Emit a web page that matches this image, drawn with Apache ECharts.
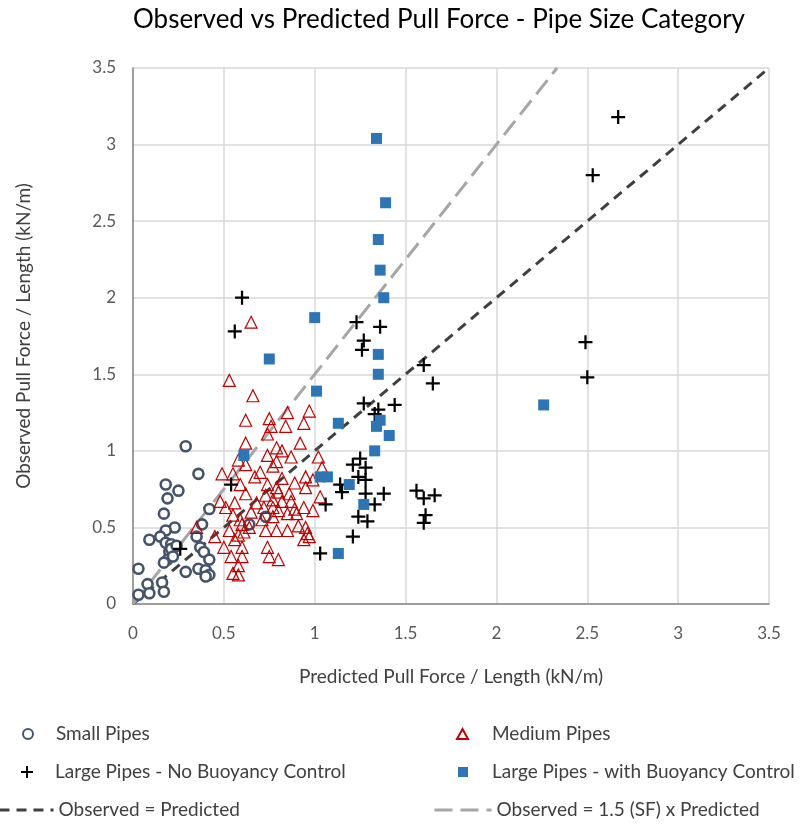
<!DOCTYPE html>
<html><head><meta charset="utf-8">
<script src="https://cdn.jsdelivr.net/npm/echarts@6/dist/echarts.min.js"></script>
<style>html,body{margin:0;padding:0;background:#fff}#c{width:807px;height:824px}</style>
</head><body><div id="c"></div>
<script>
const titleText = 'Observed vs Predicted Pull Force - Pipe Size Category';
const xName = 'Predicted Pull Force / Length (kN/m)';
const yName = 'Observed Pull Force / Length (kN/m)';
const seriesNames = ['Small Pipes','Medium Pipes','Large Pipes - No Buoyancy Control','Large Pipes - with Buoyancy Control','Observed = Predicted','Observed = 1.5 (SF) x Predicted'];

const smallPipes = [[0.29,1.03],[0.36,0.85],[0.18,0.78],[0.25,0.74],[0.19,0.69],[0.42,0.62],[0.17,0.59],[0.23,0.50],[0.18,0.48],[0.38,0.52],[0.09,0.42],[0.15,0.44],[0.18,0.40],[0.21,0.39],[0.37,0.37],[0.35,0.44],[0.20,0.34],[0.19,0.29],[0.17,0.27],[0.39,0.34],[0.42,0.29],[0.29,0.21],[0.36,0.23],[0.40,0.22],[0.03,0.23],[0.42,0.19],[0.40,0.18],[0.16,0.14],[0.08,0.13],[0.17,0.08],[0.09,0.07],[0.03,0.06],[0.64,0.52],[0.73,0.57],[0.21,0.36],[0.22,0.31],[0.24,0.38]];

const mediumPipes = [[0.65,1.84],[0.53,1.46],[0.66,1.36],[0.97,1.26],[0.85,1.25],[0.62,1.20],[0.75,1.21],[0.84,1.16],[0.76,1.16],[0.94,1.18],[0.74,1.11],[0.62,1.05],[0.92,1.05],[0.79,1.02],[0.82,1.00],[0.74,0.97],[0.87,0.96],[1.02,0.96],[0.79,0.93],[0.58,0.94],[0.62,0.91],[0.77,0.90],[1.04,0.89],[0.49,0.85],[0.55,0.85],[0.95,0.83],[0.99,0.81],[0.89,0.79],[0.59,0.78],[0.74,0.78],[0.79,0.76],[0.95,0.76],[0.62,0.72],[0.73,0.71],[0.80,0.73],[0.86,0.72],[1.03,0.70],[0.48,0.67],[0.56,0.66],[0.77,0.68],[0.82,0.67],[0.87,0.67],[0.94,0.63],[0.99,0.61],[0.51,0.63],[0.72,0.63],[0.77,0.63],[0.80,0.61],[0.85,0.59],[0.90,0.59],[0.55,0.58],[0.59,0.55],[0.77,0.57],[0.35,0.50],[0.53,0.48],[0.58,0.45],[0.64,0.50],[0.73,0.48],[0.79,0.48],[0.85,0.48],[0.95,0.50],[0.96,0.46],[0.45,0.44],[0.50,0.37],[0.60,0.37],[0.74,0.37],[0.94,0.42],[0.54,0.31],[0.60,0.31],[0.75,0.31],[0.80,0.29],[0.58,0.25],[0.55,0.20],[0.58,0.19],[0.97,0.44],[0.67,0.83],[0.70,0.86],[0.71,0.55],[0.65,0.60],[0.82,0.82],[0.89,0.62],[0.60,0.52],[0.68,0.66],[0.91,0.51],[0.56,0.42],[0.61,0.47]];

const largeNoBC = [[2.67,3.18],[2.53,2.80],[2.49,1.71],[2.50,1.48],[0.60,2.00],[0.56,1.78],[1.23,1.84],[1.36,1.81],[1.27,1.72],[1.26,1.66],[1.60,1.56],[1.65,1.44],[1.27,1.31],[1.44,1.30],[1.35,1.27],[1.33,1.24],[0.54,0.78],[0.26,0.36],[1.21,0.91],[1.25,0.95],[1.28,0.89],[1.24,0.83],[1.28,0.81],[1.14,0.78],[1.15,0.73],[1.28,0.72],[1.38,0.72],[1.33,0.65],[1.06,0.65],[1.24,0.57],[1.29,0.54],[1.21,0.44],[1.03,0.33],[1.56,0.74],[1.60,0.69],[1.66,0.71],[1.61,0.58],[1.60,0.53]];

const largeWithBC = [[1.34,3.04],[1.39,2.62],[1.35,2.38],[1.36,2.18],[1.38,2.00],[1.00,1.87],[0.75,1.60],[1.35,1.63],[1.35,1.50],[1.01,1.39],[1.13,1.18],[1.36,1.20],[1.34,1.16],[1.41,1.10],[1.33,1.00],[0.61,0.97],[1.03,0.83],[1.07,0.83],[1.19,0.78],[1.27,0.65],[1.13,0.33],[2.26,1.30]];

const lineOneToOne = [[0,0],[3.5,3.5]];
const lineSF = [[0,0],[2.3333,3.5]];

const axisTicks = [0,0.5,1,1.5,2,2.5,3,3.5];

const FONT = 'Lato, "Open Sans", sans-serif';
const LFS = 19;
const plusPath = 'path://M4.2,0h1.6v4.2h4.2v1.6h-4.2v4.2h-1.6v-4.2h-4.2v-1.6h4.2z';
const darkDash = {color:'#404040', width:3, type:[10,7]};
const lightDash = {color:'#a6a6a6', width:3, type:[18,8]};

function legendItem(name, left, cy, w, h, padLeft, extra, lineStyle) {
  const d = Object.assign({name:name}, extra || {});
  const l = {orient:'horizontal', left:left, top:cy - 12, padding:0, itemWidth:w, itemHeight:h,
    selectedMode:false, data:[d],
    textStyle:{fontFamily:FONT, fontSize:LFS, color:'#404040', lineHeight:24, padding:[0,0,0,padLeft]}};
  if (lineStyle) l.lineStyle = lineStyle;
  return l;
}

const chart = echarts.init(document.getElementById('c'), null, {renderer:'canvas'});
const axisCommon = {
  type:'value', min:axisTicks[0], max:axisTicks[axisTicks.length-1], interval:0.5,
  nameLocation:'middle',
  nameTextStyle:{fontFamily:FONT, fontSize:LFS, color:'#404040'},
  axisLine:{show:true, lineStyle:{color:'#868686', width:1.5}},
  axisTick:{show:false},
  splitLine:{show:true, lineStyle:{color:'#d9d9d9', width:1.5}},
  axisLabel:{fontFamily:FONT, fontSize:17, color:'#595959', formatter:v=>String(v)}
};
chart.setOption({
  backgroundColor:'#fff',
  animation:false,
  title:{text:titleText, left:128, top:2, textStyle:{fontFamily:FONT, fontSize:26, fontWeight:'normal', color:'#000'}},
  grid:{left:133, right:38, top:68, bottom:220},
  xAxis:Object.assign({}, axisCommon, {name:xName, nameGap:63, axisLabel:Object.assign({}, axisCommon.axisLabel, {margin:21})}),
  yAxis:Object.assign({}, axisCommon, {name:yName, nameGap:100, axisLabel:Object.assign({}, axisCommon.axisLabel, {margin:17})}),
  legend:[
    legendItem(seriesNames[0], 22, 734, 10, 10, 18),
    legendItem(seriesNames[2], 21, 772, 12, 12, 17),
    legendItem(seriesNames[4], -2, 810, 54, 10, 0, {itemStyle:{opacity:0}}, darkDash),
    legendItem(seriesNames[1], 456, 734, 11, 10, 19),
    legendItem(seriesNames[3], 458, 772, 10, 10, 19),
    legendItem(seriesNames[5], 433, 810, 57, 10, 0, {itemStyle:{opacity:0}}, lightDash)
  ],
  series:[
    {name:seriesNames[4], type:'line', data:lineOneToOne, symbol:'circle', showSymbol:false, z:1,
     lineStyle:darkDash, itemStyle:{color:'#404040'}},
    {name:seriesNames[5], type:'line', data:lineSF, symbol:'circle', showSymbol:false, z:1,
     lineStyle:lightDash, itemStyle:{color:'#a6a6a6'}},
    {name:seriesNames[0], type:'scatter', data:smallPipes, symbol:'circle', symbolSize:10, z:3,
     itemStyle:{color:'#fff', borderColor:'#44546a', borderWidth:2.6, opacity:1}},
    {name:seriesNames[1], type:'scatter', data:mediumPipes, symbol:'triangle', symbolSize:12, z:3,
     itemStyle:{color:'rgba(255,255,255,0)', borderColor:'#c00000', borderWidth:1.2, opacity:1}},
    {name:seriesNames[2], type:'scatter', data:largeNoBC, symbol:plusPath, symbolSize:14, z:4,
     itemStyle:{color:'#000', opacity:1}},
    {name:seriesNames[3], type:'scatter', data:largeWithBC, symbol:'rect', symbolSize:11, z:4,
     itemStyle:{color:'#2e75b6', opacity:1}}
  ]
});
</script></body></html>
